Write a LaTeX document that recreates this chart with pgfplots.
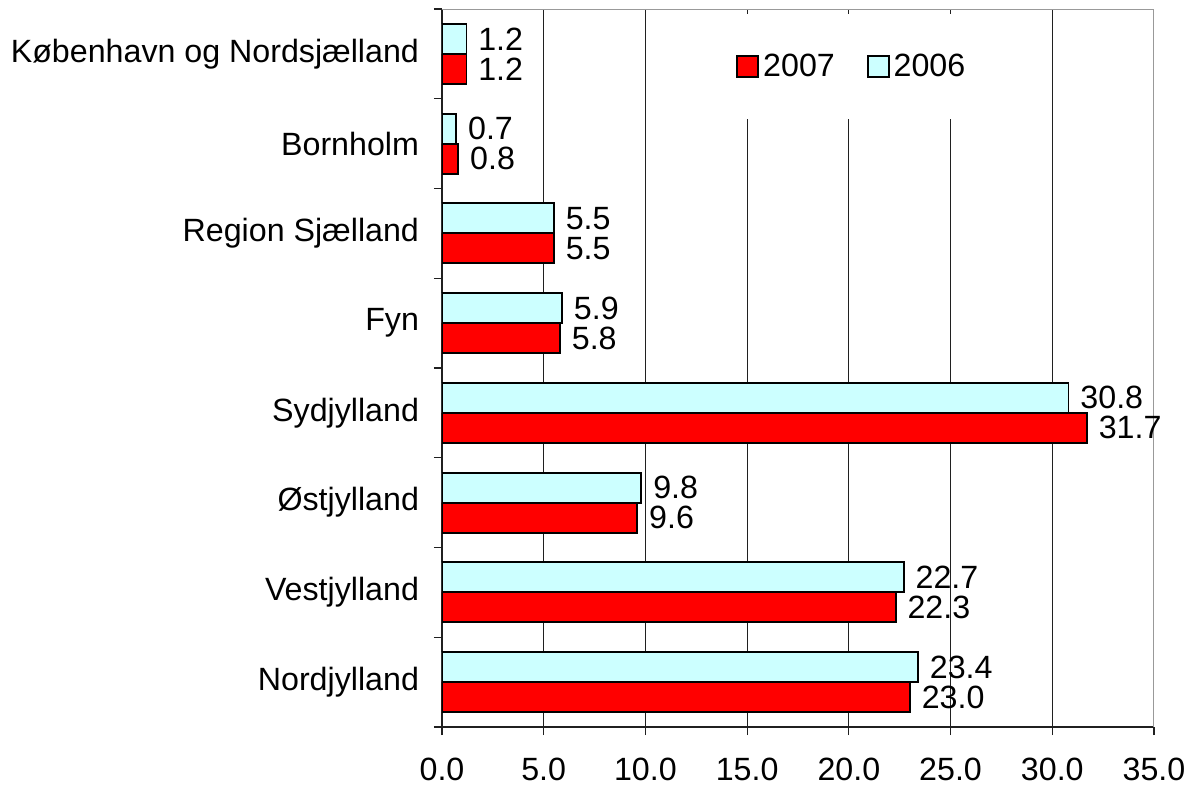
\documentclass[border=0pt]{standalone}
\usepackage{pgfplots}
\pgfplotsset{compat=1.18}
\usepackage{fontspec}
\setmainfont{Liberation Sans}
\definecolor{barred}{HTML}{FF0000}
\definecolor{barcyan}{HTML}{CCFFFF}
\definecolor{gridc}{HTML}{202020}
\definecolor{boxc}{HTML}{999999}
\begin{document}
\begin{tikzpicture}
\begin{axis}[
  at={(0,0)}, anchor=south west,
  scale only axis, width=356bp, height=359bp,
  xmin=0, xmax=35, ymin=-0.5, ymax=7.5,
  axis lines*=left,
  axis line style={draw=gridc, line width=0.6bp},
  tick align=outside,
  major tick length=4bp,
  tick style={draw=gridc, line width=0.6bp},
  xtick={0,5,...,35},
  xticklabel style={yshift=-8bp},
  /pgf/number format/.cd, fixed, precision=1, zerofill, assume math mode=true,
  /pgfplots/.cd,
  ytick={-0.5,0.5,...,7.5},
  yticklabels={},
  extra y ticks={0,1,2,3,4,5,6,7},
  extra y tick labels={Nordjylland,Vestjylland,Østjylland,Sydjylland,Fyn,Region Sjælland,Bornholm,København og Nordsjælland},
  extra y tick style={major tick length=0pt, yticklabel style={xshift=-8bp}},
  xmajorgrids=true,
  grid style={draw=gridc, line width=0.5bp},
  ticklabel style={font=\fontsize{16.1bp}{19bp}\selectfont, text=black},
  xbar, bar width=15bp,
  nodes near coords,
  point meta=x,
  nodes near coords style={font=\fontsize{16.1bp}{19bp}\selectfont, anchor=west, inner sep=0pt, xshift=5.5bp,
     /pgf/number format/.cd, fixed, precision=1, zerofill},
  legend columns=2,
  legend style={at={(0.577,0.92)}, anchor=center, draw=none, fill=white,
    font=\fontsize{16.1bp}{19bp}\selectfont, inner xsep=6bp, inner ysep=18bp,
    /tikz/every even column/.append style={column sep=14bp}},
  legend cell align=left,
  legend image code/.code={\draw[#1, line width=0.9bp] (0bp,-5.25bp) rectangle (10.5bp,5.25bp);},
]
\addplot[fill=barred, draw=black, line width=0.9bp, bar shift=-7.5bp] coordinates {
(23.0,0) (22.3,1) (9.6,2) (31.7,3) (5.8,4) (5.5,5) (0.8,6) (1.2,7)};
\addlegendentry{2007}
\addplot[fill=barcyan, draw=black, line width=0.9bp, bar shift=7.5bp] coordinates {
(23.4,0) (22.7,1) (9.8,2) (30.8,3) (5.9,4) (5.5,5) (0.7,6) (1.2,7)};
\addlegendentry{2006}
\draw[boxc, line width=1bp] (rel axis cs:0,1) -- (rel axis cs:1,1) -- (rel axis cs:1,0);
\end{axis}
\pgfresetboundingbox
\path (-221bp,-31bp) rectangle (375.5bp,363.5bp);
\end{tikzpicture}
\end{document}
